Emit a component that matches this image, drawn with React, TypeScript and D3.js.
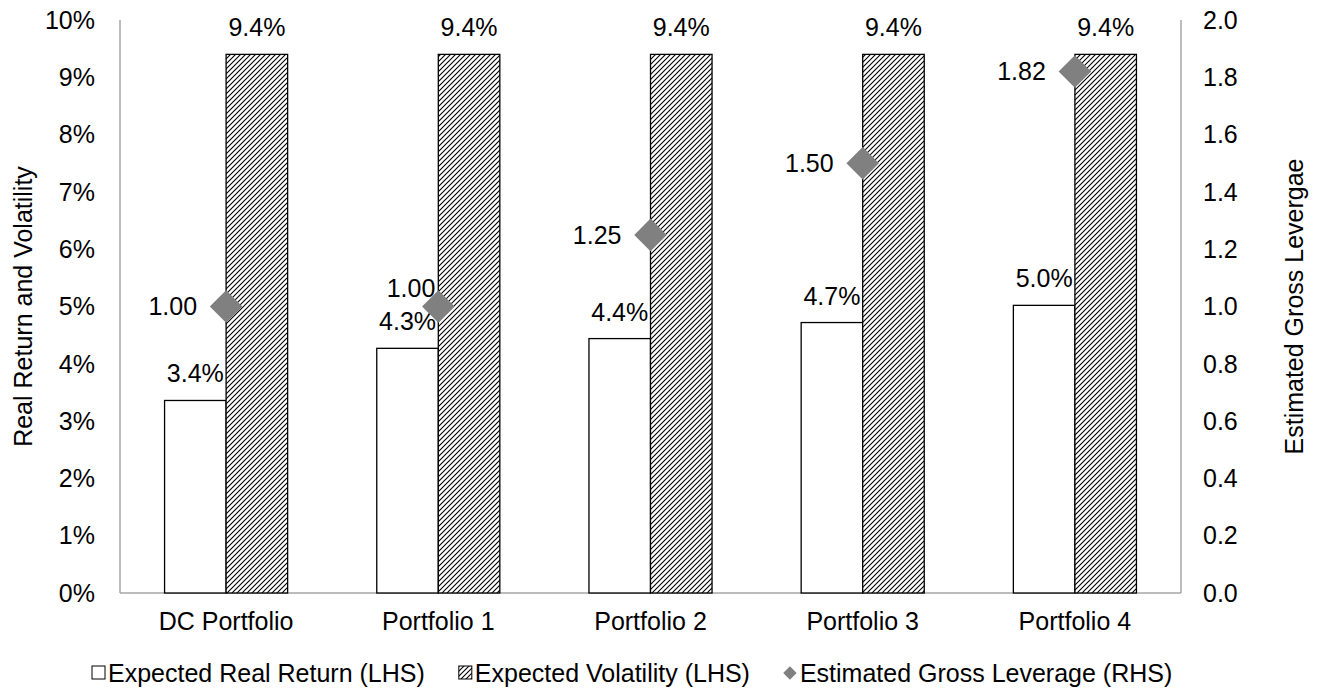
import * as d3 from 'd3';
import { useEffect, useRef } from 'react';

const categories = ['DC Portfolio', 'Portfolio 1', 'Portfolio 2', 'Portfolio 3', 'Portfolio 4'];
const realReturn = [3.36, 4.27, 4.44, 4.72, 5.02];
const volatility = [9.4, 9.4, 9.4, 9.4, 9.4];
const leverage = [1.0, 1.0, 1.25, 1.5, 1.82];
const leftTicks = [0, 1, 2, 3, 4, 5, 6, 7, 8, 9, 10];
const rightTicks = [0, 0.2, 0.4, 0.6, 0.8, 1.0, 1.2, 1.4, 1.6, 1.8, 2.0];
const legendLabels = [
  'Expected Real Return (LHS)',
  'Expected Volatility (LHS)',
  'Estimated Gross Leverage (RHS)',
];

const W = 1319;
const H = 694;
const FONT = 'Arial, "Liberation Sans", sans-serif';
const FS = 25;

export default function App() {
  const svgRef = useRef<SVGSVGElement>(null);

  useEffect(() => {
    if (!svgRef.current) return;
    const svg = d3.select(svgRef.current);
    svg.selectAll('*').remove();

    const m = { left: 120, right: 1181, top: 20, bottom: 593 };

    const x = d3.scaleBand<string>().domain(categories).range([m.left, m.right]);
    const yL = d3.scaleLinear().domain([0, 10]).range([m.bottom, m.top]);
    const yR = d3.scaleLinear().domain([0, 2]).range([m.bottom, m.top]);
    const barW = x.bandwidth() * 0.29;

    // hatch pattern (upward diagonal)
    const P = 5;
    const defs = svg.append('defs');
    const pat = defs
      .append('pattern')
      .attr('id', 'hatch')
      .attr('patternUnits', 'userSpaceOnUse')
      .attr('width', P)
      .attr('height', P);
    pat.append('rect').attr('width', P).attr('height', P).attr('fill', '#fff');
    pat
      .append('path')
      .attr('d', `M-1,1 l2,-2 M0,${P} l${P},-${P} M${P - 1},${P + 1} l2,-2`)
      .attr('stroke', '#000')
      .attr('stroke-width', 1.1);

    const g = svg.append('g').attr('font-family', FONT).attr('font-size', FS);

    // axis lines
    const axisColor = '#a6a6a6';
    const axisLine = (x1: number, y1: number, x2: number, y2: number) =>
      g.append('line')
        .attr('x1', x1).attr('x2', x2)
        .attr('y1', y1).attr('y2', y2)
        .attr('stroke', axisColor).attr('stroke-width', 1.5);
    axisLine(m.left, m.top, m.left, m.bottom);
    axisLine(m.right, m.top, m.right, m.bottom);
    axisLine(m.left, m.bottom, m.right, m.bottom);

    // tick labels
    g.selectAll('.lt')
      .data(leftTicks)
      .join('text')
      .attr('x', 95)
      .attr('y', (d) => yL(d))
      .attr('dy', '0.35em')
      .attr('text-anchor', 'end')
      .text((d) => `${d}%`);

    g.selectAll('.rt')
      .data(rightTicks)
      .join('text')
      .attr('x', 1203)
      .attr('y', (d) => yR(d))
      .attr('dy', '0.35em')
      .attr('text-anchor', 'start')
      .text((d) => d3.format('.1f')(d));

    // category labels
    g.selectAll('.cat')
      .data(categories)
      .join('text')
      .attr('x', (d) => x(d)! + x.bandwidth() / 2)
      .attr('y', 630)
      .attr('text-anchor', 'middle')
      .text((d) => d);

    // axis titles
    g.append('text')
      .attr('transform', `translate(23,${(m.top + m.bottom) / 2}) rotate(-90)`)
      .attr('dy', '0.35em')
      .attr('text-anchor', 'middle')
      .text('Real Return and Volatility');
    g.append('text')
      .attr('transform', `translate(1294,${(m.top + m.bottom) / 2}) rotate(-90)`)
      .attr('dy', '0.35em')
      .attr('text-anchor', 'middle')
      .text('Estimated Gross Levergae');

    const center = (i: number) => x(categories[i])! + x.bandwidth() / 2;

    // return bars
    g.selectAll('.ret')
      .data(realReturn)
      .join('rect')
      .attr('x', (_, i) => center(i) - barW)
      .attr('y', (d) => yL(d))
      .attr('width', barW)
      .attr('height', (d) => m.bottom - yL(d))
      .attr('fill', '#fff')
      .attr('stroke', '#000')
      .attr('stroke-width', 1.3);

    // volatility bars
    g.selectAll('.vol')
      .data(volatility)
      .join('rect')
      .attr('x', (_, i) => center(i))
      .attr('y', (d) => yL(d))
      .attr('width', barW)
      .attr('height', (d) => m.bottom - yL(d))
      .attr('fill', 'url(#hatch)')
      .attr('stroke', '#000')
      .attr('stroke-width', 1.3);

    // bar labels
    g.selectAll('.retl')
      .data(realReturn)
      .join('text')
      .attr('x', (_, i) => center(i) - barW / 2)
      .attr('y', (d) => yL(d) - 18)
      .attr('text-anchor', 'middle')
      .text((d) => `${d3.format('.1f')(d)}%`);

    g.selectAll('.voll')
      .data(volatility)
      .join('text')
      .attr('x', (_, i) => center(i) + barW / 2)
      .attr('y', (d) => yL(d) - 18)
      .attr('text-anchor', 'middle')
      .text((d) => `${d3.format('.1f')(d)}%`);

    // leverage diamonds
    const diamond = d3.symbol().type(d3.symbolSquare).size(23 * 23);
    g.selectAll('.lev')
      .data(leverage)
      .join('path')
      .attr('d', diamond)
      .attr('transform', (d, i) => `translate(${center(i)},${yR(d)}) rotate(45)`)
      .attr('fill', '#808080');

    // label for Portfolio 1 sits up-left to clear the 4.3% label
    g.selectAll('.levl')
      .data(leverage)
      .join('text')
      .attr('x', (_, i) => center(i) - (i === 1 ? 3 : 29))
      .attr('y', (d, i) => yR(d) - (i === 1 ? 18 : 0))
      .attr('dy', '0.35em')
      .attr('text-anchor', 'end')
      .text((d) => d3.format('.2f')(d));

    // legend, laid out left to right
    const ly = 673;
    const leg = g.append('g');
    let lx = 91;
    legendLabels.forEach((label, i) => {
      if (i === 2) {
        leg.append('path')
          .attr('d', d3.symbol().type(d3.symbolSquare).size(90)())
          .attr('transform', `translate(${lx + 7},${ly}) rotate(45)`)
          .attr('fill', '#808080');
      } else {
        leg.append('rect')
          .attr('x', lx + 1)
          .attr('y', ly - 7)
          .attr('width', 13)
          .attr('height', 13)
          .attr('fill', i === 1 ? 'url(#hatch)' : '#fff')
          .attr('stroke', '#000')
          .attr('stroke-width', 1);
      }
      const t = leg.append('text')
        .attr('x', lx + 17)
        .attr('y', ly)
        .attr('dy', '0.35em')
        .text(label);
      const w = (t.node() as SVGTextElement).getComputedTextLength();
      lx += 17 + w + 33;
    });
  }, []);

  return (
    <svg
      ref={svgRef}
      width={W}
      height={H}
      style={{ position: 'absolute', left: 0, top: 0, background: '#fff' }}
    />
  );
}
